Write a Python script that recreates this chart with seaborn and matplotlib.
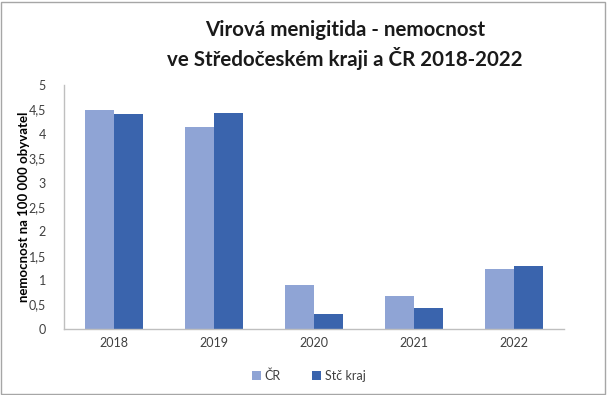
import matplotlib
matplotlib.use("Agg")
import matplotlib.pyplot as plt
import seaborn as sns
import pandas as pd
from matplotlib.patches import Rectangle

years = ["2018", "2019", "2020", "2021", "2022"]
cr = [4.49, 4.13, 0.91, 0.67, 1.23]
stc = [4.40, 4.42, 0.30, 0.44, 1.30]
series = ["ČR", "Stč kraj"]
yticks = [0, 0.5, 1, 1.5, 2, 2.5, 3, 3.5, 4, 4.5, 5]

df = pd.DataFrame({
    "rok": years * 2,
    "hodnota": cr + stc,
    "serie": [series[0]] * len(years) + [series[1]] * len(years),
})

sns.set_theme(style="white")
plt.rcParams['font.family'] = ['Lato', 'DejaVu Sans']

fig = plt.figure(figsize=(6.13, 3.95), dpi=100)
ax = fig.add_axes([0.1044, 0.167, 0.8156, 0.618])

palette = {"ČR": "#8FA4D5", "Stč kraj": "#3A64AD"}
sns.barplot(data=df, x="rok", y="hodnota", hue="serie", palette=palette,
            width=0.58, ax=ax, edgecolor=None, linewidth=0, saturation=1)
for p in ax.patches:
    p.set_edgecolor(p.get_facecolor())

ax.set_ylim(0, 5)
ax.set_yticks(yticks)
ax.set_yticklabels([str(t).replace(".", ",") if t % 1 else str(int(t)) for t in yticks],
                   fontsize=9, color="#404040")
ax.tick_params(axis="x", labelsize=9, colors="#404040", length=0, pad=6)
ax.tick_params(axis="y", length=0, pad=13)
ax.set_xlabel("")
ax.set_ylabel("nemocnost na 100 000 obyvatel", fontsize=9.5, fontweight="bold",
              color="black", labelpad=-1)
for s in ["top", "right"]:
    ax.spines[s].set_visible(False)
for s in ["left", "bottom"]:
    ax.spines[s].set_color("#BFBFBF")
    ax.spines[s].set_linewidth(1)

leg = ax.legend(loc="upper center", bbox_to_anchor=(0.49, -0.12), ncol=2,
                frameon=False, fontsize=9, handlelength=0.7, handleheight=0.7,
                columnspacing=2.5, handletextpad=0.3)
for t in leg.get_texts():
    t.set_color("#404040")

fig.text(0.563, 0.925, "Virová menigitida - nemocnost", ha="center", va="center",
         fontsize=14.8, fontweight="bold", color="#1a1a1a")
fig.text(0.563, 0.853, "ve Středočeském kraji a ČR 2018-2022", ha="center", va="center",
         fontsize=14.8, fontweight="bold", color="#1a1a1a")

fig.patches.append(Rectangle((0.002, 0.003), 0.985, 0.992, transform=fig.transFigure,
                             fill=False, edgecolor="#A6A6A6", linewidth=1))

fig.savefig("out.png", dpi=100)
